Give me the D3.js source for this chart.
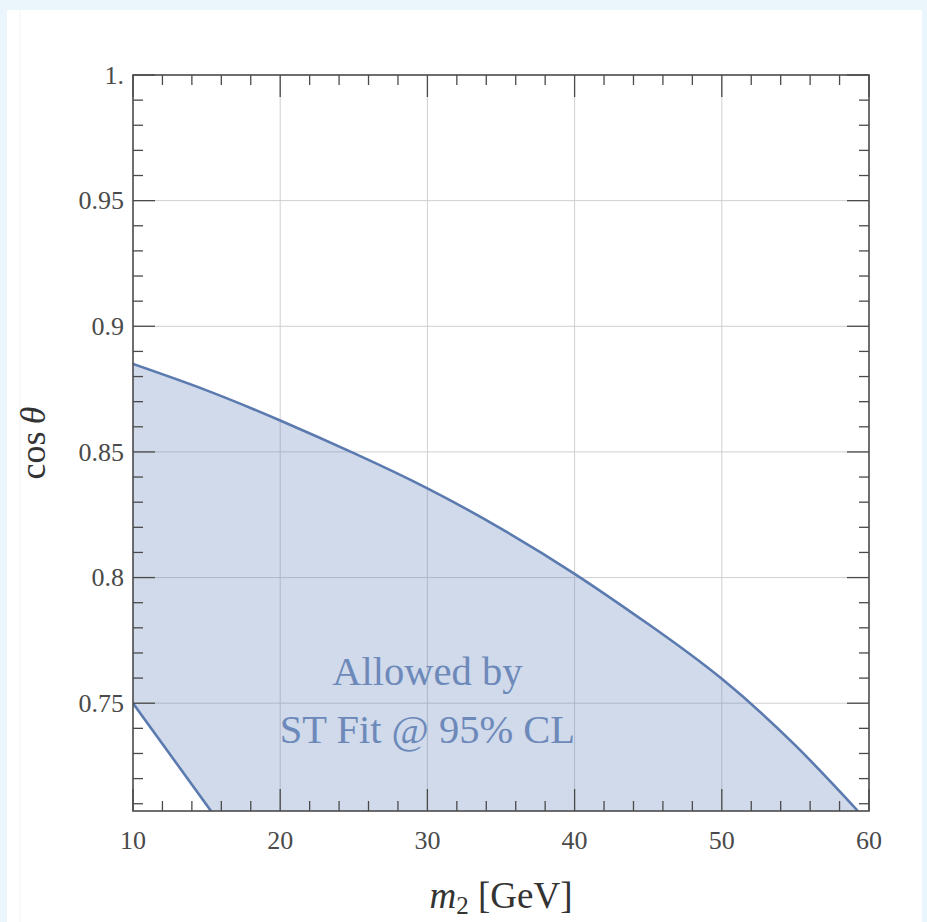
<!DOCTYPE html>
<html>
<head>
<meta charset="utf-8">
<script src="https://cdn.jsdelivr.net/npm/d3@7/dist/d3.min.js"></script>
<style>
  html, body { margin: 0; padding: 0; background: #eaf6fb; }
  svg { display: block; }
</style>
</head>
<body>
<svg id="chart" width="927" height="922"></svg>
<script>
// Axis ticks and labels
const massTicks = [10, 20, 30, 40, 50, 60];
const massTickLabels = ["10", "20", "30", "40", "50", "60"];
const cosTicks = [0.75, 0.8, 0.85, 0.9, 0.95, 1.0];
const cosTickLabels = ["0.75", "0.8", "0.85", "0.9", "0.95", "1."];

// Upper boundary of the allowed region (m2 in GeV, cos theta)
const upperM   = [10,    15,     20,     25,     30,     35,     40,     45,     50,     55,     59.25];
const upperCos = [0.885, 0.8745, 0.8625, 0.8495, 0.8355, 0.8195, 0.8015, 0.7815, 0.7597, 0.7332, 0.7071];

// Lower boundary of the allowed region
const lowerM   = [10,   15.3];
const lowerCos = [0.75, 0.7071];

const regionLabel = ["Allowed by", "ST Fit @ 95% CL"];

const cosMin = Math.SQRT1_2;
const svg = d3.select("#chart");

// white page panel
svg.append("rect").attr("x", 7).attr("y", 10).attr("width", 915).attr("height", 920).attr("fill", "#ffffff");
svg.append("line").attr("x1", 20).attr("x2", 20).attr("y1", 10).attr("y2", 922)
  .attr("stroke", "#f1f3f4").attr("stroke-width", 1);

const pLeft = 133, pRight = 869, pTop = 75, pBottom = 811;
const x = d3.scaleLinear().domain([10, 60]).range([pLeft, pRight]);
const y = d3.scaleLinear().domain([cosMin, 1]).range([pBottom, pTop]);

svg.append("clipPath").attr("id", "plotClip")
  .append("rect").attr("x", pLeft).attr("y", pTop).attr("width", pRight - pLeft).attr("height", pBottom - pTop);

// grid
const grid = svg.append("g").attr("stroke", "#cfcfcf").attr("stroke-width", 1);
massTicks.slice(1, -1).forEach(v => {
  grid.append("line").attr("x1", x(v)).attr("x2", x(v)).attr("y1", pTop).attr("y2", pBottom);
});
cosTicks.slice(0, -1).forEach(v => {
  grid.append("line").attr("x1", pLeft).attr("x2", pRight).attr("y1", y(v)).attr("y2", y(v));
});

// allowed region
const upperPts = upperM.map((m, i) => [x(m), y(upperCos[i])]);
const lowerPts = lowerM.map((m, i) => [x(m), y(lowerCos[i])]);
const curve = d3.line().curve(d3.curveNatural);
const upperPath = curve(upperPts);
const lowerPath = d3.line()(lowerPts);
const lowerRev = lowerPts.slice().reverse();

const fillPath = "M" + lowerPts[0][0] + "," + lowerPts[0][1] +
  "L" + upperPath.slice(1) +
  "L" + lowerRev.map(p => p[0] + "," + p[1]).join("L") + "Z";

const region = svg.append("g").attr("clip-path", "url(#plotClip)");
region.append("path").attr("d", fillPath)
  .attr("fill", "#5e81b5").attr("fill-opacity", 0.29).attr("stroke", "none");
region.append("path").attr("d", upperPath)
  .attr("fill", "none").attr("stroke", "#5b7aaf").attr("stroke-width", 2.6);
region.append("path").attr("d", lowerPath)
  .attr("fill", "none").attr("stroke", "#5b7aaf").attr("stroke-width", 2.6);

// region label
svg.append("g").selectAll("text").data(regionLabel).join("text")
  .attr("x", x(30)).attr("y", (d, i) => 685 + i * 58)
  .attr("text-anchor", "middle")
  .attr("font-family", "'Liberation Serif', 'DejaVu Serif', serif")
  .attr("font-size", 40.5)
  .attr("fill", "#6d89ba")
  .text(d => d);

// frame and ticks
const axisColor = "#4a4a4a";
const ticks = svg.append("g").attr("stroke", axisColor).attr("stroke-width", 1.3);
const majorLen = 22, minorLen = 10;
d3.range(10, 60.001, 2).forEach(v => {
  const len = massTicks.includes(v) ? majorLen : minorLen;
  ticks.append("line").attr("x1", x(v)).attr("x2", x(v)).attr("y1", pBottom).attr("y2", pBottom - len);
  ticks.append("line").attr("x1", x(v)).attr("x2", x(v)).attr("y1", pTop).attr("y2", pTop + len);
});
d3.range(0.71, 1.0001, 0.01).forEach(v => {
  const major = cosTicks.some(t => Math.abs(t - v) < 1e-6);
  const len = major ? majorLen : minorLen;
  ticks.append("line").attr("x1", pLeft).attr("x2", pLeft + len).attr("y1", y(v)).attr("y2", y(v));
  ticks.append("line").attr("x1", pRight).attr("x2", pRight - len).attr("y1", y(v)).attr("y2", y(v));
});
svg.append("rect").attr("x", pLeft).attr("y", pTop).attr("width", pRight - pLeft).attr("height", pBottom - pTop)
  .attr("fill", "none").attr("stroke", axisColor).attr("stroke-width", 1.6);

// tick labels
const labelFont = "'Liberation Serif', 'DejaVu Serif', serif";
svg.append("g").selectAll("text").data(massTicks).join("text")
  .attr("x", d => x(d)).attr("y", pBottom + 38)
  .attr("text-anchor", "middle")
  .attr("font-family", labelFont).attr("font-size", 26).attr("fill", "#4a4a4a")
  .text((d, i) => massTickLabels[i]);
svg.append("g").selectAll("text").data(cosTicks).join("text")
  .attr("x", pLeft - 9).attr("y", d => y(d)).attr("dy", "0.34em")
  .attr("text-anchor", "end")
  .attr("font-family", labelFont).attr("font-size", 26).attr("fill", "#4a4a4a")
  .text((d, i) => cosTickLabels[i]);

// axis titles
const xt = svg.append("text")
  .attr("x", (pLeft + pRight) / 2).attr("y", 908)
  .attr("text-anchor", "middle")
  .attr("font-family", labelFont).attr("font-size", 37).attr("fill", "#333");
xt.append("tspan").attr("font-style", "italic").text("m");
xt.append("tspan").attr("font-size", 25).attr("dy", 6).text("2");
xt.append("tspan").attr("dy", -6).text(" [GeV]");

const yt = svg.append("text")
  .attr("transform", `translate(45,${(pTop + pBottom) / 2}) rotate(-90)`)
  .attr("text-anchor", "middle")
  .attr("font-family", labelFont).attr("font-size", 36).attr("fill", "#333");
yt.append("tspan").text("cos\u2009");
yt.append("tspan").attr("font-style", "italic").text("\u03b8");
</script>
</body>
</html>
